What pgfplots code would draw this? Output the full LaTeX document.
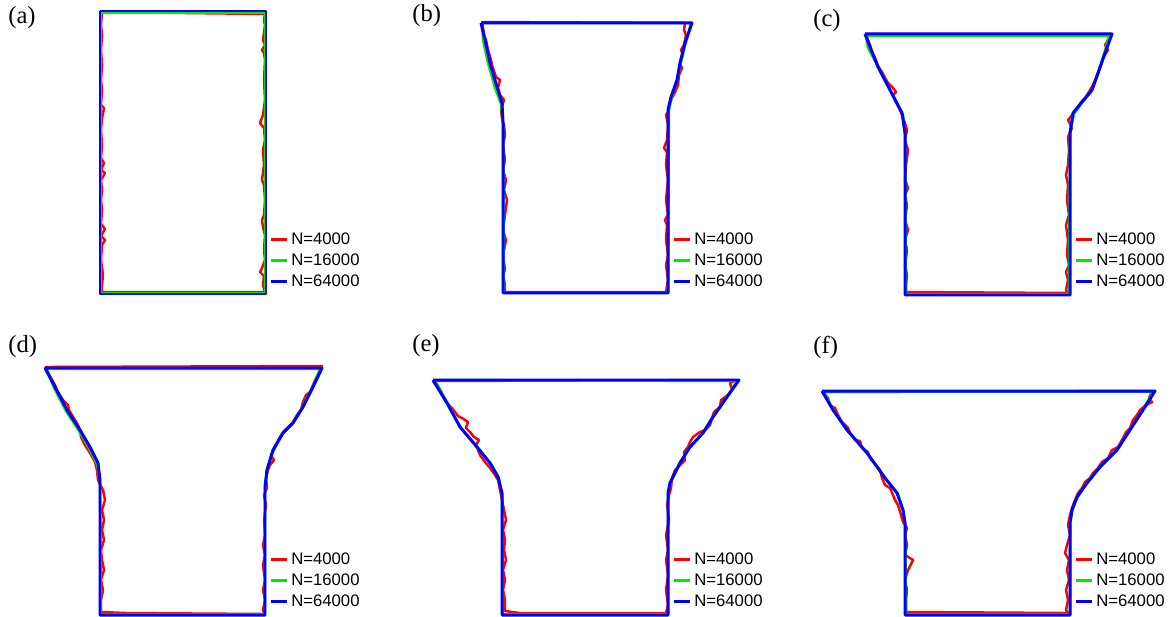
\documentclass[border=0pt]{standalone}
\usepackage{fontspec}
\setmainfont{Liberation Serif}
\setsansfont{Liberation Sans}
\usepackage{pgfplots}
\pgfplotsset{compat=1.18}

\definecolor{cR}{RGB}{255,0,0}
\definecolor{cG}{RGB}{0,235,0}
\definecolor{cB}{RGB}{0,0,255}

% every panel shares one pixel frame (x right, y down), so the six axes overlap
\pgfplotsset{
  panel/.style={
    at={(0,0)}, anchor=south west, scale only axis,
    width=23.44cm, height=12.32cm,
    xmin=0, xmax=1172, ymin=0, ymax=616, y dir=reverse,
    hide axis, clip=false,
    legend cell align=left,
  },
  legend image code/.code={\draw[#1] (0cm,0cm) -- (0.32cm,0cm); \path (0.38cm,0cm);},
  every axis legend/.append style={anchor=north west, draw=none, fill=none,
    inner sep=0pt, row sep=3.9pt,
    font=\sffamily\fontsize{9.5}{10}\selectfont,
    nodes={inner sep=0pt}},
}
\tikzset{lab/.style={anchor=west, inner sep=0pt, font=\fontsize{14}{16}\selectfont}}

\begin{document}
\begin{tikzpicture}

% (a)
\begin{axis}[panel, legend style={at={(axis cs:269,232)}}]
\path (rel axis cs:0,0) rectangle (rel axis cs:1,1);
\addplot[cR, line width=1.4pt, line join=round] coordinates {
(102,12) (265,14) (264,20) (265,25) (263,40) (265,45) (262,50) (264,53) (265,60) (264,80)
(265,100) (263,115) (260,123) (264,128) (265,140) (263,150) (264,165) (262,180) (264,185)
(265,200) (264,215) (262,220) (263,227) (265,235) (264,250) (265,260) (262,268) (260,272)
(264,276) (263,285) (265,292) (102,292) (102,285) (103,275) (101,260) (102,245) (105,240)
(101,236) (105,229) (101,224) (102,210) (101,200) (102,190) (101,180) (105,173) (101,170)
(104,163) (101,158) (102,145) (101,130) (102,118) (104,108) (101,105) (102,90) (101,80)
(102,65) (101,50) (102,35) (101,25) (102,12)};
\addlegendentry{N=4000}
\addplot[cG, line width=1.4pt, line join=round] coordinates {
(101,12.5) (265,12.5) (265,293) (101,293) (101,12.5)};
\addlegendentry{N=16000}
\addplot[cB, line width=1.7pt, line join=round] coordinates {
(100,11) (266,11) (266,294) (100,294) (100,11)};
\addlegendentry{N=64000}
\node[lab] at (axis cs:8,18) {(a)};
\end{axis}

% (b)
\begin{axis}[panel, legend style={at={(axis cs:672,232)}}]
\addplot[cR, line width=1.4pt, line join=round] coordinates {
(482,22) (685,23) (684,30) (686,35) (684,45) (681,50) (683,55) (680,63) (682,68) (679,75)
(678,85) (676,90) (672,98) (670,103) (668,112) (666,115) (668,125) (667,140) (664,148)
(667,152) (666,165) (668,180) (666,200) (668,215) (665,220) (667,225) (666,240) (668,255)
(666,265) (668,280) (666,292) (505,292) (505,285) (503,275) (505,270) (503,255) (506,240)
(503,230) (505,215) (507,200) (504,190) (506,180) (503,170) (505,160) (503,145) (505,135)
(504,125) (502,118) (501,110) (504,100) (500,95) (498,88) (500,80) (496,77) (492,65)
(491,60) (488,50) (486,40) (484,35) (483,28) (482,22)};
\addlegendentry{N=4000}
\addplot[cG, line width=1.4pt, line join=round] coordinates {
(482,23) (691,23) (686,42) (681,62) (677,80) (672,96) (669,110) (668,293) (504,293)
(503,123) (501,104) (495,88) (488,63) (483,40) (482,23)};
\addlegendentry{N=16000}
\addplot[cB, line width=1.7pt, line join=round] coordinates {
(481,23) (692,23) (685,43) (680,63) (677,80) (671,97) (668,110) (668,293) (503,293)
(503,123) (502,103) (497,87) (490,63) (485,40) (481,23)};
\addlegendentry{N=64000}
\node[lab] at (axis cs:412,16) {(b)};
\end{axis}

% (c)
\begin{axis}[panel, legend style={at={(axis cs:1074,232)}}]
\addplot[cR, line width=1.4pt, line join=round] coordinates {
(866,34) (1110,34) (1108,40) (1105,45) (1108,50) (1103,58) (1101,65) (1098,73) (1096,78)
(1093,85) (1090,90) (1086,97) (1081,102) (1078,108) (1073,114) (1068,120) (1072,128)
(1068,137) (1069,150) (1068,165) (1066,175) (1068,185) (1067,200) (1069,215) (1066,225)
(1068,240) (1067,255) (1069,265) (1066,272) (1068,280) (1066,290) (1068,293) (906,292)
(906,285) (907,275) (905,265) (907,250) (905,240) (908,230) (905,220) (907,205) (905,195)
(908,188) (905,180) (906,165) (908,150) (905,140) (907,130) (904,120) (900,110) (895,100)
(893,95) (896,92) (893,88) (888,83) (885,78) (882,72) (878,66) (875,58) (872,52) (870,45)
(868,40) (866,34)};
\addlegendentry{N=4000}
\addplot[cG, line width=1.4pt, line join=round] coordinates {
(866,36) (1109,36) (1104,54) (1098,74) (1091,92) (1081,104) (1074,114) (1070,133)
(1069,294) (906,294) (905,135) (903,115) (891,92) (880,70) (868,48) (866,36)};
\addlegendentry{N=16000}
\addplot[cB, line width=1.7pt, line join=round] coordinates {
(865,34) (1112,34) (1105,53) (1098,73) (1092,90) (1082,102) (1073,113) (1070,133)
(1070,295) (905,295) (905,133) (902,113) (890,90) (878,67) (870,47) (865,34)};
\addlegendentry{N=64000}
\node[lab] at (axis cs:813,21) {(c)};
\end{axis}

% (d)
\begin{axis}[panel, legend style={at={(axis cs:269,552)}}]
\addplot[cR, line width=1.4pt, line join=round] coordinates {
(45,367) (322,366) (318,375) (315,380) (313,385) (310,392) (306,395) (303,402) (301,410)
(297,415) (293,422) (287,428) (283,432) (280,437) (276,445) (274,450) (271,455) (274,460)
(270,465) (268,470) (266,478) (267,488) (264,495) (266,505) (264,520) (265,535) (263,545)
(265,555) (263,565) (265,580) (263,590) (265,600) (263,610) (265,614) (127,613) (101,612)
(101,600) (103,590) (101,580) (104,570) (102,560) (101,550) (104,540) (102,530) (104,520)
(102,510) (105,500) (103,490) (98,480) (97,470) (95,462) (90,453) (85,445) (81,437)
(80,430) (78,425) (75,420) (72,415) (69,410) (68,405) (63,400) (58,392) (55,385) (51,378)
(48,372) (45,367)};
\addlegendentry{N=4000}
\addplot[cG, line width=1.4pt, line join=round] coordinates {
(47,369) (320,369) (312,388) (302,408) (292,424) (282,434) (273,451) (267,471) (265,488)
(265,614) (101,614) (100,481) (97,464) (89,448) (79,431) (66,411) (54,388) (47,369)};
\addlegendentry{N=16000}
\addplot[cB, line width=1.7pt, line join=round] coordinates {
(45,368) (322,368) (313,387) (303,407) (293,423) (283,433) (273,450) (267,470) (265,487)
(265,615) (100,615) (100,480) (98,463) (90,447) (80,430) (67,410) (55,387) (45,368)};
\addlegendentry{N=64000}
\node[lab] at (axis cs:8,347) {(d)};
\end{axis}

% (e)
\begin{axis}[panel, legend style={at={(axis cs:672,552)}}]
\addplot[cR, line width=1.4pt, line join=round] coordinates {
(433,381) (736,380) (730,383) (732,390) (728,395) (721,400) (720,407) (714,412) (712,418)
(710,425) (705,430) (700,432) (693,437) (690,442) (688,447) (684,452) (685,460) (680,465)
(675,470) (672,478) (671,488) (669,495) (667,505) (669,520) (666,535) (668,550) (666,560)
(668,575) (666,590) (668,605) (666,613) (520,613) (505,611) (505,600) (503,590) (505,580)
(503,570) (506,560) (504,550) (505,540) (503,530) (506,520) (504,510) (502,500) (500,490)
(498,480) (495,475) (490,468) (485,462) (480,455) (478,450) (476,445) (479,440) (474,437)
(470,432) (466,428) (468,422) (462,418) (458,416) (455,412) (452,408) (448,404) (445,400)
(442,395) (438,388) (433,381)};
\addlegendentry{N=4000}
\addplot[cG, line width=1.4pt, line join=round] coordinates {
(435,380) (737,381) (726,398) (712,418) (702,434) (689,448) (679,464) (670,484) (668,494)
(668,614) (503,614) (502,494) (499,478) (491,464) (478,448) (461,428) (448,404) (435,380)};
\addlegendentry{N=16000}
\addplot[cB, line width=1.7pt, line join=round] coordinates {
(433,380) (739,380) (727,397) (713,417) (703,433) (690,447) (680,463) (670,483) (668,493)
(668,615) (502,615) (502,493) (498,477) (490,463) (477,447) (460,427) (447,403) (433,380)};
\addlegendentry{N=64000}
\node[lab] at (axis cs:412,346) {(e)};
\end{axis}

% (f)
\begin{axis}[panel, legend style={at={(axis cs:1074,552)}}]
\addplot[cR, line width=1.4pt, line join=round] coordinates {
(822,392) (1152,391) (1149,398) (1152,402) (1146,405) (1140,410) (1137,415) (1133,420)
(1130,428) (1126,432) (1123,438) (1118,447) (1112,450) (1108,458) (1102,462) (1098,468)
(1093,473) (1090,478) (1085,482) (1082,488) (1078,493) (1075,500) (1072,508) (1070,515)
(1068,525) (1070,535) (1067,545) (1065,553) (1069,560) (1067,570) (1069,580) (1066,590)
(1068,600) (1066,610) (1068,613) (910,612) (906,612) (906,600) (907,590) (905,580)
(908,570) (913,560) (905,555) (907,545) (905,535) (907,528) (903,522) (901,515) (898,505)
(895,500) (893,495) (890,488) (885,485) (882,478) (880,470) (876,465) (870,458) (868,452)
(862,448) (860,441) (855,440) (850,433) (848,428) (842,422) (838,415) (835,408) (830,405)
(828,398) (822,392)};
\addlegendentry{N=4000}
\addplot[cG, line width=1.4pt, line join=round] coordinates {
(824,392) (1153,392) (1142,411) (1129,431) (1116,451) (1099,468) (1086,484) (1077,498)
(1072,511) (1070,524) (1070,614) (906,614) (905,524) (903,511) (898,494) (886,479)
(868,454) (848,431) (834,411) (824,392)};
\addlegendentry{N=16000}
\addplot[cB, line width=1.7pt, line join=round] coordinates {
(822,391) (1155,391) (1143,410) (1130,430) (1117,450) (1100,467) (1087,483) (1077,497)
(1072,510) (1070,523) (1070,615) (905,615) (905,523) (903,510) (897,493) (885,478)
(867,453) (847,430) (833,410) (822,391)};
\addlegendentry{N=64000}
\node[lab] at (axis cs:813,347) {(f)};
\end{axis}

\end{tikzpicture}
\end{document}
